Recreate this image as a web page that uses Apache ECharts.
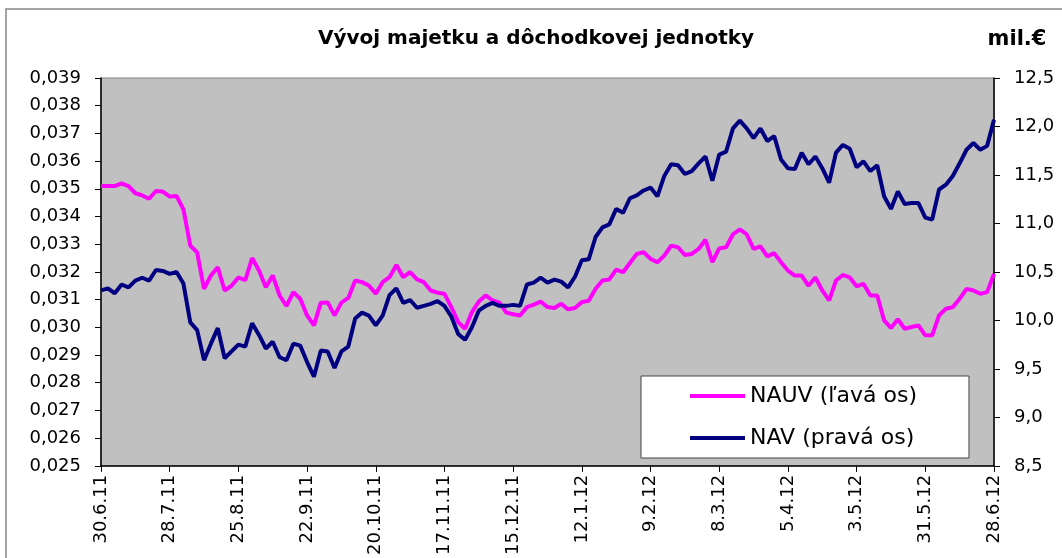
<html>
<head>
    <meta charset="utf-8">
    <title></title>
    <script src="https://cdn.jsdelivr.net/npm/echarts@6/dist/echarts.min.js"></script>
</head>
<body style="margin:0; background:#fff">
    <div id="main" style="width: 1062px; height: 558px"></div>
    <script>
        // labels every 4 weeks, one point every 2 business days
        var tickLabels = ['30.6.11', '28.7.11', '25.8.11', '22.9.11', '20.10.11', '17.11.11', '15.12.11',
            '12.1.12', '9.2.12', '8.3.12', '5.4.12', '3.5.12', '31.5.12', '28.6.12'];

        // NAUV (left axis)
        var nauv = [
            0.0351, 0.0351, 0.0351, 0.0352, 0.0351, 0.03484, 0.03476, 0.03464, 0.03492, 0.0349,
            0.03472, 0.03474, 0.03426, 0.03295, 0.0327, 0.03139, 0.03187, 0.03217, 0.03133, 0.0315,
            0.0318, 0.0317, 0.0325, 0.03205, 0.03145, 0.03187, 0.03115, 0.03077, 0.03127, 0.03103,
            0.03043, 0.03007, 0.03089, 0.0309, 0.03043, 0.03089, 0.03106, 0.03169, 0.03163, 0.03151,
            0.03121, 0.03163, 0.03181, 0.03225, 0.03181, 0.03199, 0.03173, 0.03163, 0.03133, 0.03125,
            0.03121, 0.03073, 0.03019, 0.02995, 0.03055, 0.03093, 0.03115, 0.03097, 0.03089, 0.03053,
            0.03047, 0.03043, 0.03073, 0.03082, 0.03093, 0.03073, 0.0307, 0.03085, 0.03065, 0.0307,
            0.03091, 0.03096, 0.03139, 0.03169, 0.03173, 0.03208, 0.03199, 0.03232, 0.03265, 0.03271,
            0.03247, 0.03235, 0.03259, 0.03295, 0.03289, 0.03261, 0.03265, 0.03283, 0.03316, 0.03235,
            0.03285, 0.03289, 0.03336, 0.03354, 0.03336, 0.03283, 0.03292, 0.03256, 0.03268, 0.03235,
            0.03205, 0.03187, 0.03187, 0.0315, 0.0318, 0.03133, 0.03097, 0.03169, 0.03189, 0.0318,
            0.03148, 0.03157, 0.03115, 0.03115, 0.03025, 0.02998, 0.03029, 0.02995, 0.03001, 0.03007,
            0.02971, 0.02971, 0.03043, 0.03067, 0.03073, 0.03103, 0.03139, 0.03133, 0.03121, 0.03127,
            0.03193
        ];

        // NAV in mil. EUR (right axis)
        var nav = [
            10.31, 10.33, 10.28, 10.37, 10.34, 10.41, 10.44, 10.41, 10.52, 10.51,
            10.48, 10.50, 10.38, 9.98, 9.90, 9.59, 9.76, 9.92, 9.61, 9.68,
            9.75, 9.73, 9.97, 9.85, 9.71, 9.78, 9.62, 9.59, 9.76, 9.74,
            9.57, 9.42, 9.69, 9.68, 9.51, 9.68, 9.73, 10.02, 10.08, 10.05,
            9.95, 10.05, 10.26, 10.33, 10.18, 10.21, 10.13, 10.15, 10.17, 10.20,
            10.15, 10.04, 9.86, 9.80, 9.93, 10.10, 10.15, 10.18, 10.15, 10.15,
            10.16, 10.15, 10.37, 10.39, 10.44, 10.39, 10.42, 10.40, 10.34, 10.45,
            10.62, 10.63, 10.86, 10.96, 10.99, 11.15, 11.11, 11.26, 11.29, 11.34,
            11.37, 11.28, 11.49, 11.61, 11.60, 11.51, 11.54, 11.62, 11.69, 11.44,
            11.71, 11.74, 11.98, 12.06, 11.98, 11.88, 11.98, 11.85, 11.90, 11.66,
            11.57, 11.56, 11.73, 11.61, 11.69, 11.57, 11.42, 11.73, 11.81, 11.77,
            11.58, 11.64, 11.54, 11.60, 11.28, 11.15, 11.33, 11.20, 11.21, 11.21,
            11.06, 11.04, 11.35, 11.40, 11.49, 11.62, 11.76, 11.83, 11.76, 11.80,
            12.07
        ];

        var categories = nauv.map(function (v, i) { return String(i); });
        var font = 'DejaVu Sans';

        var myChart = echarts.init(document.getElementById('main'));
        var option = {
            animation: false,
            textStyle: { fontFamily: font },
            graphic: [
                { type: 'rect', shape: { x: 6, y: 9, width: 1080, height: 580 }, style: { fill: 'none', stroke: '#888', lineWidth: 1.5 }, z: -1 },
                { type: 'text', x: 536, y: 39, style: { text: 'Vývoj majetku a dôchodkovej jednotky', font: 'bold 20px "DejaVu Sans"', fill: '#000', textAlign: 'center', textVerticalAlign: 'middle' } },
                { type: 'text', x: 1017, y: 40, style: { text: 'mil.€', font: 'bold 21px "DejaVu Sans"', fill: '#000', textAlign: 'center', textVerticalAlign: 'middle' } }
            ],
            legend: {
                orient: 'vertical',
                left: 641,
                top: 376,
                backgroundColor: '#fff',
                borderColor: '#444',
                borderWidth: 1,
                padding: [9, 52, 9, 49],
                itemWidth: 55,
                itemHeight: 4,
                itemGap: 20,
                icon: 'rect',
                textStyle: { fontSize: 22, color: '#000', fontFamily: font },
                data: ['NAUV (ľavá os)', 'NAV (pravá os)']
            },
            grid: {
                left: 101,
                right: 68,
                top: 78,
                bottom: 90,
                show: true,
                backgroundColor: '#c0c0c0',
                borderColor: '#808080',
                borderWidth: 1
            },
            xAxis: {
                type: 'category',
                data: categories,
                boundaryGap: false,
                axisLine: { lineStyle: { color: '#000', width: 1.5 } },
                axisTick: { interval: 9, length: 6, lineStyle: { color: '#000' } },
                axisLabel: {
                    interval: 9,
                    rotate: 90,
                    margin: 9,
                    fontSize: 18,
                    color: '#000',
                    fontFamily: font,
                    formatter: function (value, index) { return tickLabels[index / 10] || ''; }
                },
                splitLine: { show: false }
            },
            yAxis: [
                {
                    type: 'value',
                    position: 'left',
                    min: 0.025,
                    max: 0.039,
                    interval: 0.001,
                    axisLine: { show: true, lineStyle: { color: '#000', width: 1.5 } },
                    axisTick: { show: true, length: 6, lineStyle: { color: '#000' } },
                    axisLabel: {
                        margin: 20,
                        fontSize: 18,
                        color: '#000',
                        fontFamily: font,
                        formatter: function (v) { return v.toFixed(3).replace('.', ','); }
                    },
                    splitLine: { show: false }
                },
                {
                    type: 'value',
                    position: 'right',
                    min: 8.5,
                    max: 12.5,
                    interval: 0.5,
                    axisLine: { show: true, lineStyle: { color: '#000', width: 1.5 } },
                    axisTick: { show: true, length: 6, lineStyle: { color: '#000' } },
                    axisLabel: {
                        margin: 20,
                        fontSize: 18,
                        color: '#000',
                        fontFamily: font,
                        formatter: function (v) { return v.toFixed(1).replace('.', ','); }
                    },
                    splitLine: { show: false }
                }
            ],
            series: [
                {
                    name: 'NAUV (ľavá os)',
                    type: 'line',
                    yAxisIndex: 0,
                    data: nauv,
                    showSymbol: false,
                    color: '#ff00ff',
                    lineStyle: { width: 4, color: '#ff00ff' }
                },
                {
                    name: 'NAV (pravá os)',
                    type: 'line',
                    yAxisIndex: 1,
                    data: nav,
                    showSymbol: false,
                    color: '#000080',
                    lineStyle: { width: 4, color: '#000080' }
                }
            ]
        };
        myChart.setOption(option);
    </script>
</body>
</html>
